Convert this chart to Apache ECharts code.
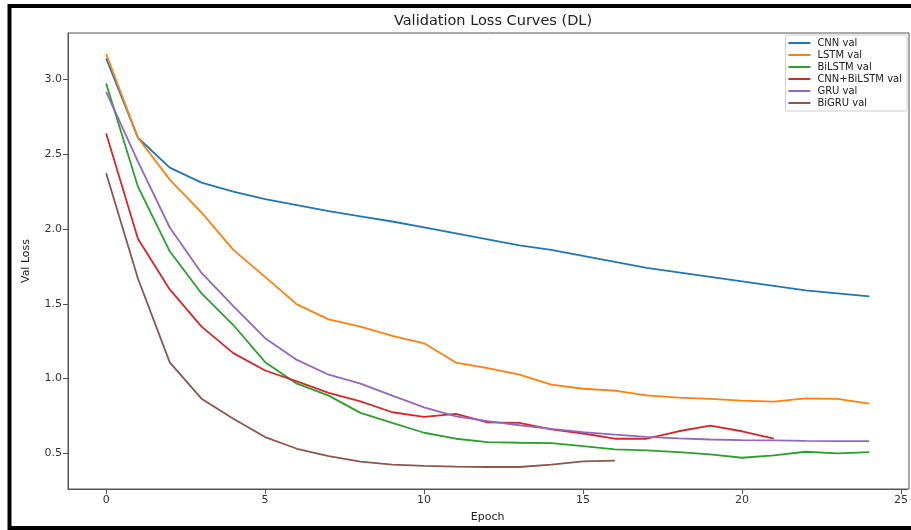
<!DOCTYPE html>
<html>
<head>
<meta charset="utf-8">
<script src="https://cdn.jsdelivr.net/npm/echarts@6/dist/echarts.min.js"></script>
<style>
  html, body { margin: 0; padding: 0; background: #fff; }
  #chart { width: 911px; height: 530px; }
</style>
</head>
<body>
<div id="chart"></div>
<script>
// epochs 0..24
const epochs = Array.from({ length: 25 }, (_, i) => i)
const xTicks = [0, 5, 10, 15, 20, 25]
const yTicks = [0.5, 1.0, 1.5, 2.0, 2.5, 3.0]

const cnnVal = [3.14, 2.61, 2.41, 2.31, 2.25, 2.20, 2.16, 2.12, 2.085, 2.05, 2.01, 1.97, 1.93, 1.89, 1.86, 1.82, 1.78, 1.74, 1.71, 1.68, 1.65, 1.62, 1.59, 1.57, 1.55]
const lstmVal = [3.17, 2.61, 2.33, 2.11, 1.86, 1.68, 1.496, 1.396, 1.347, 1.285, 1.236, 1.107, 1.07, 1.026, 0.959, 0.932, 0.92, 0.888, 0.873, 0.864, 0.853, 0.846, 0.868, 0.864, 0.833]
const bilstmVal = [2.973, 2.283, 1.851, 1.569, 1.358, 1.11, 0.966, 0.886, 0.771, 0.704, 0.638, 0.598, 0.575, 0.571, 0.569, 0.549, 0.527, 0.52, 0.509, 0.493, 0.471, 0.487, 0.511, 0.5, 0.509]
const cnnBilstmVal = [2.638, 1.935, 1.596, 1.347, 1.17, 1.054, 0.981, 0.904, 0.848, 0.775, 0.744, 0.764, 0.708, 0.704, 0.66, 0.633, 0.598, 0.598, 0.648, 0.686, 0.648, 0.598]
const gruVal = [2.917, 2.45, 2.01, 1.706, 1.485, 1.27, 1.125, 1.026, 0.966, 0.886, 0.808, 0.748, 0.715, 0.688, 0.664, 0.642, 0.626, 0.611, 0.6, 0.593, 0.589, 0.587, 0.584, 0.582, 0.582]
const bigruVal = [2.372, 1.669, 1.108, 0.866, 0.731, 0.609, 0.531, 0.482, 0.445, 0.425, 0.416, 0.411, 0.409, 0.409, 0.425, 0.447, 0.451]

const seriesList = [
  { name: 'CNN val', data: cnnVal, color: '#1f77b4' },
  { name: 'LSTM val', data: lstmVal, color: '#ff7f0e' },
  { name: 'BiLSTM val', data: bilstmVal, color: '#2ca02c' },
  { name: 'CNN+BiLSTM val', data: cnnBilstmVal, color: '#d62728' },
  { name: 'GRU val', data: gruVal, color: '#9467bd' },
  { name: 'BiGRU val', data: bigruVal, color: '#8c564b' }
]

const font = 'DejaVu Sans'
const chart = echarts.init(document.getElementById('chart'))

chart.setOption({
  animation: false,
  backgroundColor: '#fff',
  textStyle: { fontFamily: font },
  title: {
    text: 'Validation Loss Curves (DL)',
    left: 488,
    textAlign: 'center',
    top: 9,
    textStyle: { fontFamily: font, fontSize: 14.5, fontWeight: 'normal', color: '#222' }
  },
  grid: {
    left: 68,
    right: 2,
    top: 33,
    bottom: 41
  },
  legend: {
    orient: 'vertical',
    right: 4,
    top: 35,
    itemWidth: 22,
    itemHeight: 2,
    itemGap: 2,
    padding: [3, 5, 3, 3],
    borderColor: '#ccc',
    borderWidth: 1,
    borderRadius: 2,
    icon: 'rect',
    textStyle: { fontFamily: font, fontSize: 10, color: '#222', lineHeight: 10, padding: [0, 0, 0, 2] },
    data: seriesList.map(s => s.name)
  },
  xAxis: {
    type: 'value',
    min: -1.2,
    max: 25.2,
    name: 'Epoch',
    nameLocation: 'middle',
    nameGap: 23,
    nameTextStyle: { fontFamily: font, fontSize: 11, color: '#222' },
    splitLine: { show: false },
    axisLine: { onZero: false, lineStyle: { color: '#555', width: 1 } },
    axisTick: { customValues: xTicks, length: 5, lineStyle: { color: '#555' } },
    axisLabel: { customValues: xTicks, fontFamily: font, fontSize: 11, color: '#333', margin: 6 }
  },
  yAxis: {
    type: 'value',
    min: 0.262,
    max: 3.31,
    name: 'Val Loss',
    nameLocation: 'middle',
    nameGap: 36,
    nameTextStyle: { fontFamily: font, fontSize: 11, color: '#222' },
    splitLine: { show: false },
    axisLine: { show: true, onZero: false, lineStyle: { color: '#555', width: 1 } },
    axisTick: { show: true, customValues: yTicks, length: 5, lineStyle: { color: '#555' } },
    axisLabel: {
      customValues: yTicks,
      fontFamily: font,
      fontSize: 11,
      color: '#333',
      margin: 6,
      formatter: v => v.toFixed(1)
    }
  },
  series: seriesList.map(s => ({
    name: s.name,
    type: 'line',
    showSymbol: false,
    symbol: 'none',
    color: s.color,
    lineStyle: { width: 1.8, color: s.color },
    data: s.data.map((v, i) => [epochs[i], v])
  })),
  graphic: [
    {
      // right & top spines of the plot box (matplotlib style)
      type: 'rect',
      shape: { x: 68, y: 33, width: 841, height: 456 },
      style: { fill: 'none', stroke: '#555', lineWidth: 1 },
      silent: true
    },
    {
      // black screenshot frame
      type: 'rect',
      shape: { x: 9.5, y: 6, width: 920, height: 522 },
      style: { fill: 'none', stroke: '#000', lineWidth: 4 },
      silent: true
    }
  ]
})
</script>
</body>
</html>
